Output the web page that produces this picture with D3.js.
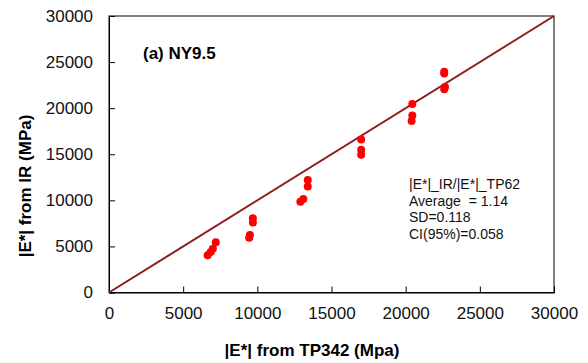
<!DOCTYPE html>
<html>
<head>
<meta charset="utf-8">
<script src="https://cdn.jsdelivr.net/npm/d3@7/dist/d3.min.js"></script>
<style>
  html, body { margin: 0; padding: 0; background: #fff; }
  svg { display: block; font-family: "Liberation Sans", Arial, sans-serif; }
</style>
</head>
<body>
<svg id="chart" width="588" height="363"></svg>
<script>
// |E*| from TP342 (x) vs |E*| from IR (y), MPa
const tp342 = [6650, 6850, 7000, 7200,
               9700, 9700, 9500, 9450,
               13400, 13400, 13100, 12900,
               17000, 17000, 17000,
               20450, 20450, 20400,
               22600, 22600, 22650, 22600];
const irValues = [4050, 4400, 4750, 5450,
                  8050, 7600, 6250, 5950,
                  12200, 11500, 10150, 9850,
                  16600, 15500, 14950,
                  20450, 19200, 18600,
                  23950, 23750, 22300, 22050];
const tickValues = [0, 5000, 10000, 15000, 20000, 25000, 30000];
const equalityLine = [0, 30000];
const statsLines = ["|E*|_IR/|E*|_TP62", "Average  = 1.14", "SD=0.118", "CI(95%)=0.058"];

const svg = d3.select("#chart");
const margin = { left: 109, right: 34, top: 16, bottom: 70.5 };
const W = 588, H = 363;

const x = d3.scaleLinear().domain([0, 30000]).range([margin.left, W - margin.right]);
const y = d3.scaleLinear().domain([0, 30000]).range([H - margin.bottom, margin.top]);

// frame
svg.append("rect")
  .attr("x", x(0)).attr("y", y(30000))
  .attr("width", x(30000) - x(0)).attr("height", y(0) - y(30000))
  .attr("fill", "none").attr("stroke", "#000").attr("stroke-width", 1);

// axes with inward ticks
const xAxis = svg.append("g").attr("transform", `translate(0,${y(0)})`)
  .call(d3.axisBottom(x).tickValues(tickValues).tickSize(-6).tickPadding(14).tickFormat(d3.format("d")));
const yAxis = svg.append("g").attr("transform", `translate(${x(0)},0)`)
  .call(d3.axisLeft(y).tickValues(tickValues).tickSize(-6).tickPadding(16).tickFormat(d3.format("d")));
[xAxis, yAxis].forEach(g => {
  g.select(".domain").attr("stroke", "#000");
  g.selectAll(".tick line").attr("stroke", "#000");
  g.selectAll(".tick text").attr("fill", "#111").style("font-size", "17px")
    .style("font-family", "'Liberation Sans', Arial, sans-serif");
});
xAxis.selectAll(".tick text").attr("dy", "0.71em");

// 1:1 line
svg.append("line")
  .attr("x1", x(equalityLine[0])).attr("y1", y(equalityLine[0]))
  .attr("x2", x(equalityLine[1])).attr("y2", y(equalityLine[1]))
  .attr("stroke", "#8e1c1c").attr("stroke-width", 2);

// measured points
svg.append("g").selectAll("circle")
  .data(tp342.map((v, i) => [v, irValues[i]]))
  .join("circle")
  .attr("cx", d => x(d[0])).attr("cy", d => y(d[1]))
  .attr("r", 4).attr("fill", "#ff0000");

// panel label
svg.append("text").attr("x", 143).attr("y", 59)
  .style("font-size", "17px").style("font-weight", "bold").attr("fill", "#000")
  .text("(a) NY9.5");

// statistics
svg.append("g").selectAll("text").data(statsLines).join("text")
  .attr("x", 409).attr("y", (d, i) => 189 + i * 16.5)
  .style("font-size", "14px").attr("fill", "#111")
  .style("white-space", "pre").attr("xml:space", "preserve")
  .text(d => d);

// axis titles
svg.append("text").attr("x", 312).attr("y", 356).attr("text-anchor", "middle")
  .style("font-size", "17px").style("font-weight", "bold").attr("fill", "#000")
  .text("|E*| from TP342 (Mpa)");
svg.append("text").attr("transform", "translate(31,186) rotate(-90)").attr("text-anchor", "middle")
  .style("font-size", "17px").style("font-weight", "bold").attr("fill", "#000")
  .text("|E*| from IR (MPa)");
</script>
</body>
</html>
